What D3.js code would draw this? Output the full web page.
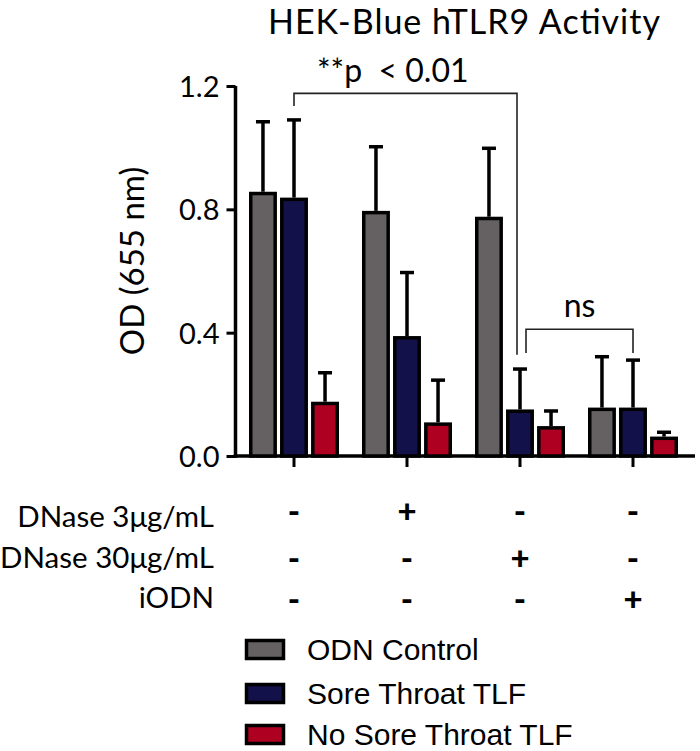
<!DOCTYPE html>
<html>
<head>
<meta charset="utf-8">
<script src="https://cdn.jsdelivr.net/npm/d3@7"></script>
<style>
  html, body { margin: 0; padding: 0; background: #ffffff; }
  svg { display: block; }
  text { white-space: pre; }
</style>
</head>
<body>
<script>
// ---------- data ----------
const groups = ["Control", "DNase 3μg/mL", "DNase 30μg/mL", "iODN"];
const seriesNames = ["ODN Control", "Sore Throat TLF", "No Sore Throat TLF"];
const odnControl = [0.857, 0.795, 0.776, 0.157];
const soreThroat = [0.838, 0.389, 0.151, 0.157];
const noSoreThroat = [0.176, 0.109, 0.097, 0.063];
const odnControlErr = [0.227, 0.208, 0.222, 0.165];
const soreThroatErr = [0.252, 0.206, 0.131, 0.154];
const noSoreThroatErr = [0.094, 0.137, 0.049, 0.014];
const yTicks = [0.0, 0.4, 0.8, 1.2];
const rowLabels = ["DNase 3μg/mL", "DNase 30μg/mL", "iODN"];
const rowSigns = [
  ["-", "+", "-", "-"],
  ["-", "-", "+", "-"],
  ["-", "-", "-", "+"]
];
const colors = ["#656163", "#13114a", "#ae0020"];

const values = [odnControl, soreThroat, noSoreThroat];
const errors = [odnControlErr, soreThroatErr, noSoreThroatErr];

// ---------- layout ----------
const W = 700, H = 751;
const svg = d3.select("body").append("svg").attr("width", W).attr("height", H);

const y = d3.scaleLinear().domain([0, 1.2]).range([456, 86]);
const x = d3.scaleBand().domain(groups).range([237.5, 689.5]).padding(0);
const xs = d3.scaleBand().domain(seriesNames)
  .range([x.bandwidth() / 2 - 45, x.bandwidth() / 2 + 45])
  .paddingInner(0.1).paddingOuter(0);

const FONT = "Lato, 'Open Sans', sans-serif";

// title
svg.append("text").attr("x", 268).attr("y", 34)
  .attr("font-family", FONT)
  .attr("font-size", 34).attr("fill", "#000")
  .attr("textLength", 392).attr("lengthAdjust", "spacing")
  .text("HEK-Blue hTLR9 Activity");

// y axis
const yAxis = d3.axisLeft(y).tickValues(yTicks).tickFormat(d3.format(".1f"))
  .tickSize(9).tickSizeOuter(0);
const gy = svg.append("g").attr("transform", "translate(235.5,0)").call(yAxis);
gy.select(".domain").attr("stroke", "#000").attr("stroke-width", 3.5)
  .attr("d", `M0,${y(1.2)}V${y(0) + 1.75}`);
gy.selectAll(".tick line").attr("stroke", "#000").attr("stroke-width", 3);
gy.selectAll(".tick text").attr("font-family", FONT).attr("font-size", 29)
  .attr("fill", "#000").attr("x", -16).attr("dy", "0.36em");

// y label
svg.append("text")
  .attr("transform", "translate(144,261) rotate(-90)")
  .attr("text-anchor", "middle").attr("font-family", FONT)
  .attr("font-size", 33).attr("fill", "#000")
  .text("OD (655 nm)");

// x axis
const xAxis = d3.axisBottom(x).tickSize(11).tickSizeOuter(0).tickFormat("");
const gx = svg.append("g").attr("transform", `translate(0,${y(0)})`).call(xAxis);
gx.select(".domain").attr("stroke", "#000").attr("stroke-width", 3.5)
  .attr("d", "M233.75,0H695");
gx.selectAll(".tick line").attr("stroke", "#000").attr("stroke-width", 3)
  .attr("transform", `translate(${xs("Sore Throat TLF") + xs.bandwidth() / 2 - x.bandwidth() / 2},0)`);

// bars
const SW = 3.5;
const gBars = svg.append("g");
groups.forEach((g, gi) => {
  seriesNames.forEach((s, si) => {
    const v = values[si][gi];
    const e = errors[si][gi];
    const cx = x(g) + xs(s) + xs.bandwidth() / 2;
    gBars.append("line")
      .attr("x1", cx).attr("x2", cx)
      .attr("y1", y(v)).attr("y2", y(v + e))
      .attr("stroke", "#000").attr("stroke-width", 3.5);
    gBars.append("line")
      .attr("x1", cx - 7).attr("x2", cx + 7)
      .attr("y1", y(v + e)).attr("y2", y(v + e))
      .attr("stroke", "#000").attr("stroke-width", 3.5);
    gBars.append("rect")
      .attr("x", x(g) + xs(s) + SW / 2)
      .attr("y", y(v) + SW / 2)
      .attr("width", xs.bandwidth() - SW)
      .attr("height", y(0) - y(v) - SW / 2)
      .attr("fill", colors[si]).attr("stroke", "#000").attr("stroke-width", SW);
  });
});

// significance brackets
function cxOf(g, s) { return x(g) + xs(s) + xs.bandwidth() / 2; }
const br = svg.append("g").attr("fill", "none").attr("stroke", "#222").attr("stroke-width", 1.6);
const pL = cxOf(groups[0], seriesNames[1]), pR = cxOf(groups[2], seriesNames[1]) - 3;
br.append("path").attr("d",
  `M${pL},${y(1.135)}V${y(1.176)}H${pR}V${y(0.328)}`);
const nL = cxOf(groups[2], seriesNames[1]) + 6, nR = cxOf(groups[3], seriesNames[1]);
br.append("path").attr("d",
  `M${nL},${y(0.334)}V${y(0.411)}H${nR}V${y(0.334)}`);

svg.append("text").attr("x", 317).attr("y", 82)
  .attr("font-family", FONT).attr("font-size", 32).attr("fill", "#000")
  .text("**p  < 0.01");
svg.append("text").attr("x", (nL + nR) / 2).attr("y", 317)
  .attr("text-anchor", "middle")
  .attr("font-family", FONT).attr("font-size", 32).attr("fill", "#000")
  .text("ns");

// treatment table
const rowY = [527, 568, 608];
const signY = [523, 570, 611];
rowLabels.forEach((lab, ri) => {
  svg.append("text").attr("x", 214).attr("y", rowY[ri])
    .attr("text-anchor", "end").attr("font-family", FONT)
    .attr("font-size", 29.5).attr("fill", "#000").text(lab);
  rowSigns[ri].forEach((sg, gi) => {
    svg.append("text")
      .attr("x", cxOf(groups[gi], seriesNames[1]))
      .attr("y", signY[ri])
      .attr("text-anchor", "middle").attr("font-family", FONT)
      .attr("font-weight", 900)
      .attr("font-size", 33).attr("fill", "#000").text(sg);
  });
});

// legend
const legY = [649.5, 693.5, 734.5];
seriesNames.forEach((s, si) => {
  svg.append("rect").attr("x", 246.5).attr("y", legY[si] - 9)
    .attr("width", 37).attr("height", 18)
    .attr("fill", colors[si]).attr("stroke", "#000").attr("stroke-width", 3.5);
  svg.append("text").attr("x", 307).attr("y", legY[si] + 10)
    .attr("font-family", "'Liberation Sans', Arial, sans-serif")
    .attr("font-size", 30).attr("fill", "#000").text(s);
});
</script>
</body>
</html>
